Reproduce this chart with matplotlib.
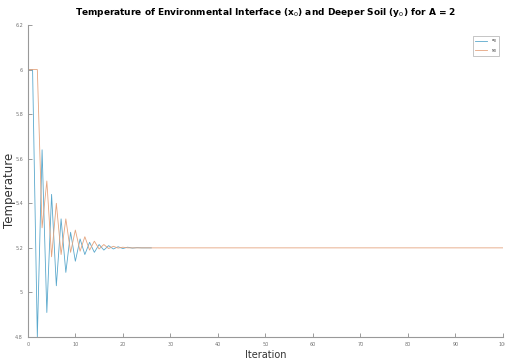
import numpy as np
import matplotlib.pyplot as plt

# estimated values
x0 = [6.0, 6.0, 4.80, 5.64, 4.91, 5.44, 5.03, 5.33, 5.09, 5.27, 5.14,
      5.24, 5.17, 5.225, 5.18, 5.215, 5.19, 5.21, 5.195, 5.205, 5.197,
      5.203, 5.199, 5.201, 5.2, 5.2, 5.2]
y0_head = [6.0, 6.0, 6.0, 5.29, 5.50, 5.16, 5.40, 5.17, 5.33, 5.18, 5.28,
           5.185, 5.25, 5.19, 5.23, 5.195, 5.215, 5.197, 5.207, 5.199,
           5.203, 5.2]
y0 = y0_head + [5.2] * (101 - len(y0_head))

xticks = np.arange(0, 101, 10)
yticks = [4.8, 5.0, 5.2, 5.4, 5.6, 5.8, 6.0, 6.2]
yticklabels = ['4.8', '5', '5.2', '5.4', '5.6', '5.8', '6', '6.2']

fig = plt.figure(figsize=(5.06, 3.62), dpi=100)
ax = fig.add_axes([0.055, 0.069, 0.939, 0.862])

ax.plot(range(len(x0)), x0, color='#5aa8cc', lw=0.6, label='x$_0$')
ax.plot(range(len(y0)), y0, color='#e5a47e', lw=0.6, label='y$_0$')

ax.set_xlim(0, 100)
ax.set_ylim(4.8, 6.2)
ax.set_xticks(xticks)
ax.set_yticks(yticks)
ax.set_yticklabels(yticklabels)
ax.tick_params(direction='in', length=3, width=0.6, colors='0.55',
               labelsize=3.5, labelcolor='0.45')
for s in ['top', 'right']:
    ax.spines[s].set_visible(False)
for s in ['left', 'bottom']:
    ax.spines[s].set_color('0.6')
    ax.spines[s].set_linewidth(0.8)

ax.set_title('Temperature of Environmental Interface (x$_0$) and Deeper Soil (y$_0$) for A = 2',
             fontsize=6.5, fontweight='bold', pad=7)
ax.set_xlabel('Iteration', fontsize=7, color='0.2', labelpad=2)
ax.set_ylabel('Temperature', fontsize=8.5, color='0.2')
ax.yaxis.set_label_coords(-0.024, 0.47)

leg = ax.legend(loc='upper right', fontsize=3, frameon=True, fancybox=False,
                handlelength=3, borderpad=0.4, labelspacing=0.3,
                bbox_to_anchor=(0.995, 0.97))
leg.get_frame().set_edgecolor('0.6')
leg.get_frame().set_linewidth(0.5)

fig.savefig('out.png', dpi=100)
